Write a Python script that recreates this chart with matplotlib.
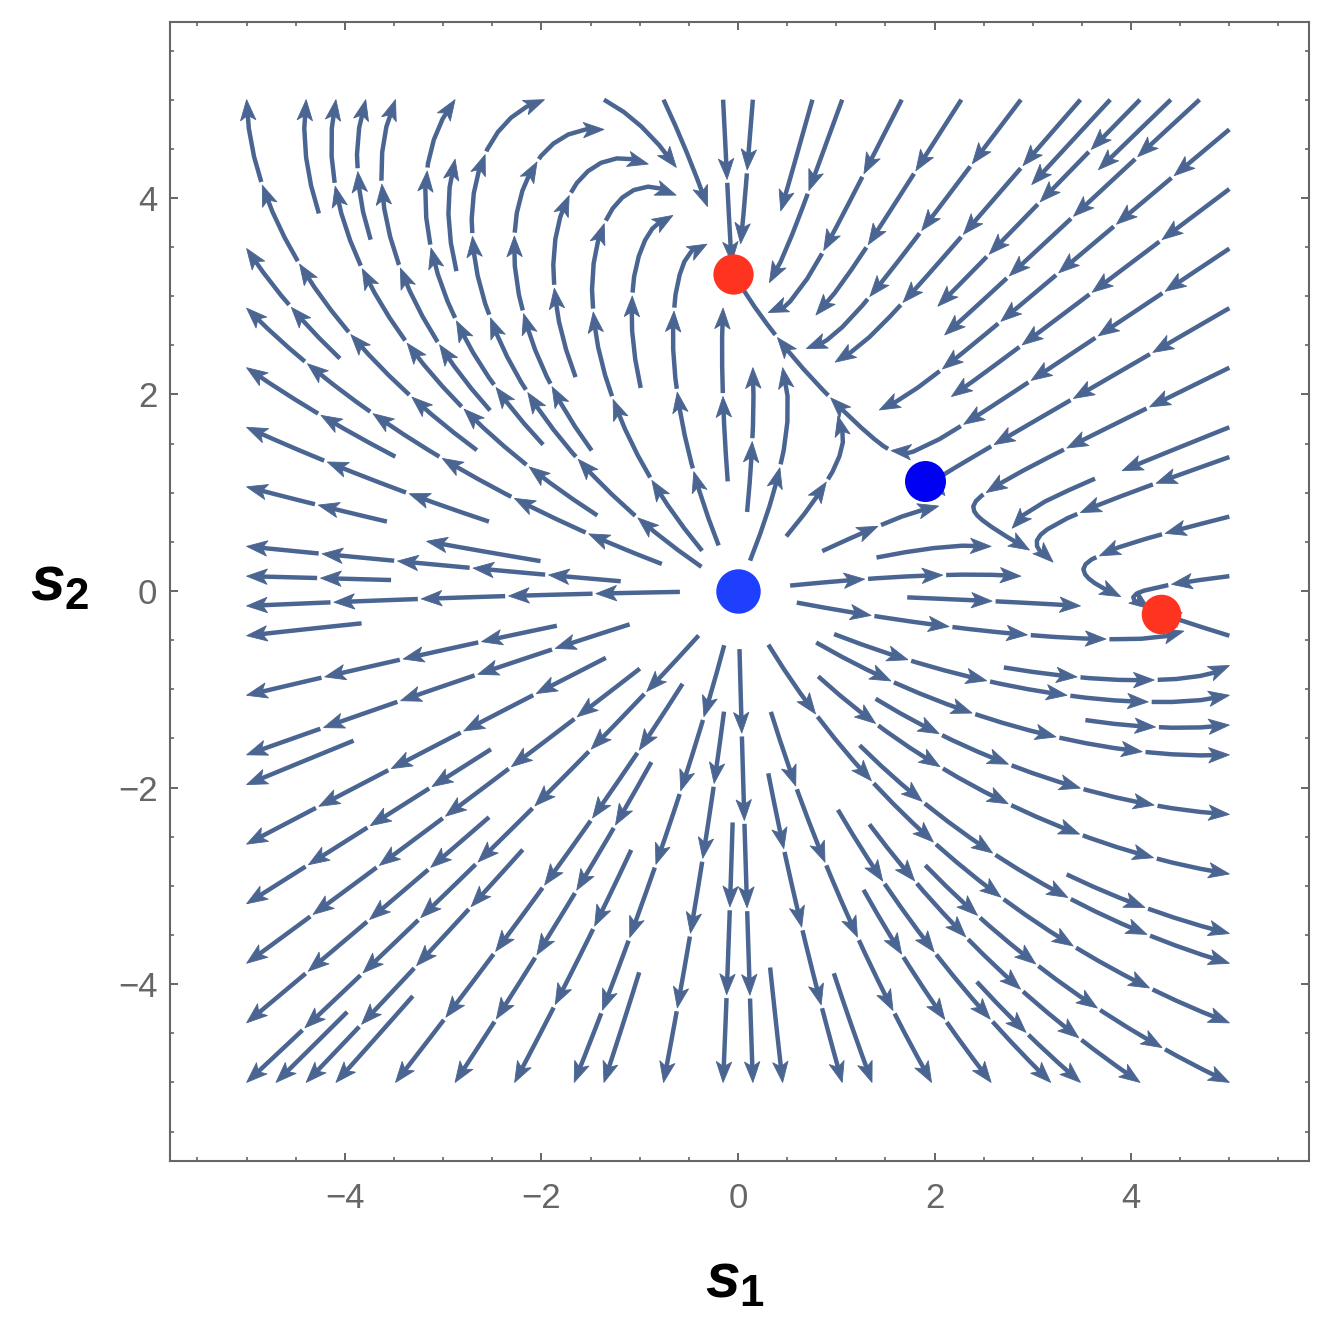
import numpy as np
import matplotlib

matplotlib.use("Agg")

import matplotlib.pyplot as plt
from matplotlib.collections import LineCollection, PolyCollection
from matplotlib.ticker import MultipleLocator

# fixed points (s1, s2)
point_s1 = [0.0, 1.9, -0.05, 4.3]
point_s2 = [0.0, 1.12, 3.23, -0.23]
point_colors = ["#1f3fff", "#0000f2", "#ff3420", "#ff3420"]
point_sizes = [32, 29.5, 29, 28.5]
tick_values = [-4, -2, 0, 2, 4]

stream_color = "#4a6591"
axis_gray = "#666666"
plt.rcParams["mathtext.fontset"] = "custom"
plt.rcParams["mathtext.it"] = "Liberation Sans:italic:bold"
plt.rcParams["mathtext.rm"] = "Liberation Sans:bold"

# quadratic field ds/dt = s + Q(s); Q chosen so that ds/dt = 0 at the
# three non-origin fixed points
px = np.array(point_s1[1:])
py = np.array(point_s2[1:])
M = np.column_stack([px ** 2, px * py, py ** 2])
c1 = np.linalg.solve(M, -px)
c2 = np.linalg.solve(M, -py)

grid = np.linspace(-5, 5, 241)
X, Y = np.meshgrid(grid, grid)
U = X + c1[0] * X ** 2 + c1[1] * X * Y + c1[2] * Y ** 2
V = Y + c2[0] * X ** 2 + c2[1] * X * Y + c2[2] * Y ** 2

# let matplotlib trace the streamlines on a scratch axes
tmp_fig, tmp_ax = plt.subplots()
sp = tmp_ax.streamplot(grid, grid, U, V, density=1.15, linewidth=1, arrowsize=1)
segs = [np.asarray(s) for s in sp.lines.get_segments()]
plt.close(tmp_fig)

# glue segments into whole streamlines (they come in flow order)
paths = []
cur = list(segs[0])
for s in segs[1:]:
    if np.allclose(s[0], cur[-1]):
        cur.extend(s[1:])
    else:
        paths.append(np.array(cur))
        cur = list(s)
paths.append(np.array(cur))

# streamlines leave a small gap round the source
trimmed = []
for p in paths:
    r = np.hypot(p[:, 0] - point_s1[0], p[:, 1] - point_s2[0])
    keep = r > 0.32
    if keep.sum() > 1:
        idx = np.flatnonzero(keep)
        trimmed.append(p[idx[0]:idx[-1] + 1])
paths = trimmed

# cut every streamline into short arrows, Mathematica style
piece, gap, head, half = 0.8, 0.035, 0.21, 0.078
shafts, heads = [], []
for p in paths:
    d = np.r_[0, np.cumsum(np.hypot(*np.diff(p, axis=0).T))]
    total = d[-1]
    if total < 0.25:
        continue
    n = max(1, int(round((total + gap) / (piece + gap))))
    step = (total + gap) / n
    for k in range(n):
        a = k * step
        b = a + step - gap
        e = b - 0.7 * head
        s = np.r_[a, d[(d > a) & (d < e)], e]
        shafts.append(np.column_stack([np.interp(s, d, p[:, 0]), np.interp(s, d, p[:, 1])]))
        tip = np.array([np.interp(b, d, p[:, 0]), np.interp(b, d, p[:, 1])])
        base = np.array([np.interp(b - head, d, p[:, 0]), np.interp(b - head, d, p[:, 1])])
        u = tip - base
        u = u / np.hypot(*u)
        nrm = np.array([-u[1], u[0]])
        heads.append([tip, base + half * nrm, base + 0.05 * u, base - half * nrm])

fig = plt.figure(figsize=(13.29, 13.35), dpi=100)
ax = fig.add_axes([0.1279, 0.1303, 0.857, 0.8532])

ax.add_collection(LineCollection(shafts, colors=stream_color, linewidths=3.2, capstyle="butt"))
ax.add_collection(PolyCollection(heads, facecolors=stream_color, edgecolors=stream_color, linewidths=0.6))

for x, y, c, ms in zip(point_s1, point_s2, point_colors, point_sizes):
    ax.plot(x, y, "o", color=c, ms=ms, mec="none", zorder=5)

ax.set_xlim(-5.78, 5.81)
ax.set_ylim(-5.8, 5.79)
ax.set_xticks(tick_values)
ax.set_yticks(tick_values)
ax.xaxis.set_minor_locator(MultipleLocator(0.5))
ax.yaxis.set_minor_locator(MultipleLocator(0.5))
ax.tick_params(which="both", direction="in", top=True, right=True, color=axis_gray)
ax.tick_params(which="major", length=5.5, width=1.4)
ax.tick_params(which="minor", length=3, width=1.2)
ax.tick_params(axis="x", pad=15)
ax.tick_params(axis="y", pad=9)
for lab in ax.get_xticklabels() + ax.get_yticklabels():
    lab.set_fontfamily("Liberation Sans")
    lab.set_fontsize(25)
    lab.set_color(axis_gray)
for sp_ in ax.spines.values():
    sp_.set_color(axis_gray)
    sp_.set_linewidth(1.5)

fig.text(0.553, 0.0285, r"$s_1$", fontsize=45, ha="center", va="baseline")
fig.text(0.045, 0.5506, r"$s_2$", fontsize=45, ha="center", va="baseline")

fig.savefig("out.png", dpi=100)
plt.close(fig)
